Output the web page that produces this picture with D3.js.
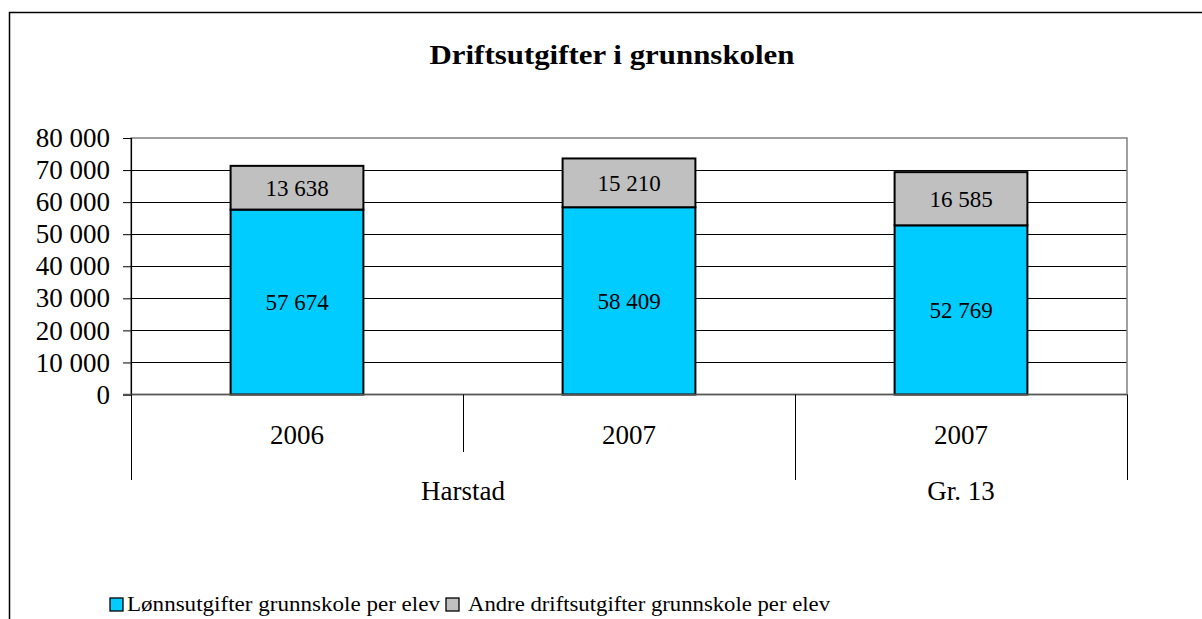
<!DOCTYPE html>
<html>
<head>
<meta charset="utf-8">
<script src="https://cdn.jsdelivr.net/npm/d3@7"></script>
<style>
  html, body { margin: 0; padding: 0; background: #fff; }
  svg { display: block; }
  svg text { font-family: "Liberation Serif", "DejaVu Serif", serif; fill: #000; }
</style>
</head>
<body>
<svg id="chart" width="1202" height="619"></svg>
<script>
// Operating costs per pupil, primary school (NOK)
const categories = ["Harstad 2006", "Harstad 2007", "Gr. 13 2007"];
const years = ["2006", "2007", "2007"];
const groups = [
  { name: "Harstad", from: 0, to: 2 },
  { name: "Gr. 13", from: 2, to: 3 }
];
const salary = [57674, 58409, 52769];
const otherCosts = [13638, 15210, 16585];
const seriesNames = ["Lønnsutgifter grunnskole per elev", "Andre driftsutgifter grunnskole per elev"];
const seriesColors = ["#00CCFF", "#C0C0C0"];
const yTicks = [0, 10000, 20000, 30000, 40000, 50000, 60000, 70000, 80000];

const SERIF = "Liberation Serif, DejaVu Serif, serif";
const svg = d3.select("#chart");
const plot = { left: 131, right: 1127, top: 138, bottom: 394.5 };

const fmt = v => d3.format(",")(v).replace(/,/g, " ");

// outer chart frame
svg.append("rect")
  .attr("x", 9.5).attr("y", 12.5)
  .attr("width", 1230).attr("height", 640)
  .attr("fill", "#fff").attr("stroke", "#000").attr("stroke-width", 1.5);

// title
svg.append("text")
  .attr("x", 612).attr("y", 64)
  .attr("text-anchor", "middle")
  .attr("font-family", SERIF)
  .attr("font-size", 28).attr("font-weight", "bold")
  .attr("textLength", 365).attr("lengthAdjust", "spacingAndGlyphs")
  .text("Driftsutgifter i grunnskolen");

const x = d3.scaleBand()
  .domain(categories)
  .range([plot.left, plot.right])
  .paddingInner(0.6).paddingOuter(0.3);

const y = d3.scaleLinear().domain([0, 80000]).range([plot.bottom, plot.top]);

// gridlines
svg.append("g")
  .selectAll("line")
  .data(yTicks.filter(t => t > 0 && t < 80000))
  .join("line")
  .attr("x1", plot.left).attr("x2", plot.right)
  .attr("y1", d => Math.round(y(d)) + 0.5).attr("y2", d => Math.round(y(d)) + 0.5)
  .attr("stroke", "#000").attr("stroke-width", 1);

// plot area border
svg.append("rect")
  .attr("x", plot.left).attr("y", plot.top)
  .attr("width", plot.right - plot.left).attr("height", plot.bottom - plot.top)
  .attr("fill", "none").attr("stroke", "#808080").attr("stroke-width", 1.5);

// y axis
const yAxis = d3.axisLeft(y).tickValues(yTicks).tickSize(8).tickPadding(13).tickFormat(fmt);
const gy = svg.append("g").attr("transform", `translate(${plot.left},0)`).call(yAxis);
gy.attr("font-family", SERIF);
gy.select(".domain").attr("stroke", "#000").attr("stroke-width", 1.2);
gy.selectAll(".tick line").attr("stroke", "#000");
gy.selectAll(".tick text")
  .attr("font-size", 27).attr("fill", "#000")
  .attr("font-family", SERIF);

// stacked bars
const stack = categories.map((c, i) => [
  { cat: c, y0: 0, y1: salary[i], v: salary[i], s: 0 },
  { cat: c, y0: salary[i], y1: salary[i] + otherCosts[i], v: otherCosts[i], s: 1 }
]).flat();

svg.append("g")
  .selectAll("rect")
  .data(stack)
  .join("rect")
  .attr("x", d => x(d.cat))
  .attr("y", d => y(d.y1))
  .attr("width", x.bandwidth())
  .attr("height", d => y(d.y0) - y(d.y1))
  .attr("fill", d => seriesColors[d.s])
  .attr("stroke", "#000").attr("stroke-width", 2);

// value labels
svg.append("g")
  .selectAll("text")
  .data(stack)
  .join("text")
  .attr("x", d => x(d.cat) + x.bandwidth() / 2)
  .attr("y", d => (y(d.y0) + y(d.y1)) / 2 + 8)
  .attr("text-anchor", "middle")
  .attr("font-family", SERIF)
  .attr("font-size", 23)
  .text(d => fmt(d.v));

// x axis baseline
svg.append("line")
  .attr("x1", plot.left - 8).attr("x2", plot.right)
  .attr("y1", plot.bottom).attr("y2", plot.bottom)
  .attr("stroke", "#555").attr("stroke-width", 1.5);

// category separators (two-level axis)
const step = x.step();
const boundaries = d3.range(categories.length + 1).map(i => plot.left + i * step);
const groupEdges = new Set([0, ...groups.map(g => g.to)]);
svg.append("g")
  .selectAll("line")
  .data(boundaries.map((b, i) => ({ b, full: groupEdges.has(i) })))
  .join("line")
  .attr("x1", d => Math.round(d.b) + 0.5).attr("x2", d => Math.round(d.b) + 0.5)
  .attr("y1", plot.bottom)
  .attr("y2", d => d.full ? 480 : 452)
  .attr("stroke", "#000").attr("stroke-width", 1);

// year labels
svg.append("g")
  .selectAll("text")
  .data(categories)
  .join("text")
  .attr("x", d => x(d) + x.bandwidth() / 2)
  .attr("y", 444)
  .attr("text-anchor", "middle")
  .attr("font-family", SERIF)
  .attr("font-size", 27)
  .text((d, i) => years[i]);

// group labels
svg.append("g")
  .selectAll("text")
  .data(groups)
  .join("text")
  .attr("x", g => (boundaries[g.from] + boundaries[g.to]) / 2)
  .attr("y", 500)
  .attr("text-anchor", "middle")
  .attr("font-family", SERIF)
  .attr("font-size", 27)
  .text(g => g.name);

// legend
const legend = svg.append("g");
const legendItems = [
  { x: 110, tx: 127, w: 313 },
  { x: 446, tx: 468, w: 362 }
];
seriesNames.forEach((name, i) => {
  legend.append("rect")
    .attr("x", legendItems[i].x).attr("y", 598)
    .attr("width", 13).attr("height", 13)
    .attr("fill", seriesColors[i]).attr("stroke", "#000").attr("stroke-width", 1.3);
  legend.append("text")
    .attr("x", legendItems[i].tx).attr("y", 611)
    .attr("font-family", SERIF)
    .attr("font-size", 20)
    .attr("textLength", legendItems[i].w).attr("lengthAdjust", "spacingAndGlyphs")
    .text(name);
});
</script>
</body>
</html>
